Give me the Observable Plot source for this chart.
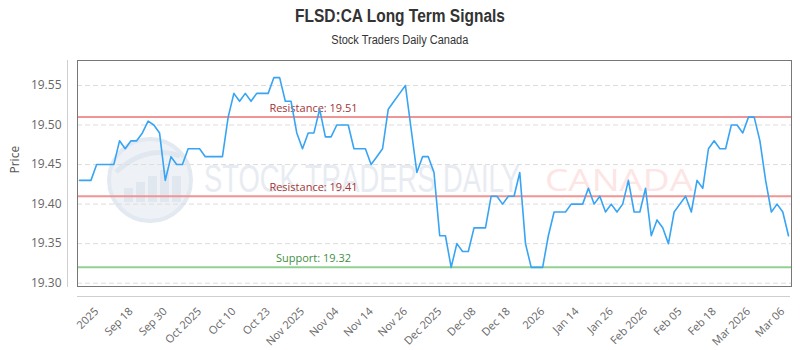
<!DOCTYPE html>
<html><head><meta charset="utf-8">
<script src="https://cdn.jsdelivr.net/npm/d3@7"></script>
<script src="https://cdn.jsdelivr.net/npm/@observablehq/plot@0.6"></script>
<style>
body{margin:0;background:#fff;}
#wrap{width:800px;}
#title{height:52px;position:relative;font-family:"Liberation Sans","DejaVu Sans",sans-serif;color:#333;text-align:center;}
#title .t{position:absolute;left:0;right:0;top:5px;font-size:18px;font-weight:bold;line-height:22px;}
#title .s{position:absolute;left:0;right:0;top:32px;font-size:12.5px;line-height:16px;}
#title span{display:inline-block;}
#title .t span{transform:scaleX(0.86);}
#title .s span{transform:scaleX(0.88);}
#chart svg{display:block;}
</style></head><body>
<div id="wrap">
<div id="title"><div class="t"><span>FLSD:CA Long Term Signals</span></div><div class="s"><span>Stock Traders Daily Canada</span></div></div>
<div id="chart"></div>
</div>
<script>
const prices = [
19.43,19.43,19.43,19.45,19.45,19.45,19.45,19.48,19.47,19.48,
19.48,19.49,19.505,19.50,19.49,19.43,19.46,19.45,19.45,19.47,
19.47,19.47,19.46,19.46,19.46,19.46,19.51,19.54,19.53,19.54,
19.53,19.54,19.54,19.54,19.56,19.56,19.53,19.53,19.49,19.47,
19.49,19.49,19.52,19.485,19.485,19.50,19.50,19.50,19.47,19.47,
19.47,19.45,19.46,19.47,19.52,19.53,19.54,19.55,19.495,19.44,
19.46,19.46,19.44,19.36,19.36,19.32,19.35,19.34,19.34,19.37,
19.37,19.37,19.41,19.41,19.40,19.41,19.41,19.44,19.35,19.32,
19.32,19.32,19.36,19.39,19.39,19.39,19.40,19.40,19.40,19.42,
19.40,19.41,19.39,19.40,19.39,19.40,19.43,19.39,19.39,19.42,
19.36,19.38,19.37,19.35,19.39,19.40,19.41,19.39,19.43,19.42,
19.47,19.48,19.47,19.47,19.50,19.50,19.49,19.51,19.51,19.48,
19.43,19.39,19.40,19.39,19.36
];
const xTickLabels = ["2025","Sep 18","Sep 30","Oct 2025","Oct 10","Oct 23","Nov 2025","Nov 04","Nov 14","Nov 26","Dec 2025","Dec 08","Dec 18","2026","Jan 14","Jan 26","Feb 2026","Feb 05","Feb 18","Mar 2026","Mar 06"];
const xTickFirst = 3, xTickStep = 6;
const yTicks = [19.30,19.35,19.40,19.45,19.50,19.55];
const levelTypes = ["Resistance","Resistance","Support"];
const levelValues = [19.51,19.41,19.32];

const series = prices.map((v,i)=>({i, v}));
const levels = levelTypes.map((t,k)=>({type:t, value:levelValues[k]}));
const tickIdx = xTickLabels.map((_,k)=>xTickFirst + k*xTickStep);
const tickLabel = new Map(tickIdx.map((t,k)=>[t, xTickLabels[k]]));
const lvlStroke = d => d.type === "Support" ? "#92d092" : "#f09595";
const lvlText = d => d.type === "Support" ? "#3f8f3f" : "#a23535";

const plot = Plot.plot({
  width: 800, height: 298,
  marginTop: 8, marginBottom: 64, marginLeft: 77, marginRight: 9,
  style: {fontFamily: "'Open Sans', sans-serif", fontSize: "12px", color: "#666", background: "#fff", overflow: "visible"},
  x: {type: "linear", domain: [0, prices.length - 1], insetLeft: 2, insetRight: 3},
  y: {domain: [19.2958, 19.5816]},
  marks: [
    Plot.gridY(yTicks, {stroke: "#dcdcdc", strokeOpacity: 1, strokeDasharray: "5,3"}),
    Plot.ruleY(levels, {y: "value", stroke: lvlStroke, strokeWidth: 2}),
    Plot.text(levels, {y: "value", text: d => `${d.type}: ${d.value.toFixed(2)}`, frameAnchor: "left", dx: 236, dy: -9, textAnchor: "middle", fill: lvlText, fontSize: 11}),
    Plot.line(series, {x: "i", y: "v", stroke: "#38a4f4", strokeWidth: 1.6}),
    Plot.frame({stroke: "#777"}),
    Plot.axisY(yTicks, {tickSize: 0, tickPadding: 16, tickFormat: d3.format(".2f"), label: null, fill: "#666"}),
    Plot.axisX(tickIdx, {tickSize: 0, tickPadding: 23, tickRotate: -45, tickFormat: i => tickLabel.get(i), label: null, fill: "#666", fontSize: 11}),
    Plot.text(["Price"], {frameAnchor: "left", dx: -62, rotate: -90, fill: "#555", fontSize: 12})
  ]
});
document.getElementById("chart").appendChild(plot);

// decorative watermark and outer axis lines
const svg = d3.select(plot);
const wm = svg.insert("g", "g").attr("pointer-events", "none").attr("text-anchor", "start");
wm.append("circle").attr("cx", 150).attr("cy", 128).attr("r", 41)
  .attr("fill", "#eef2f7").attr("stroke", "#e3e9f1").attr("stroke-width", 4);
[[124,14],[136,20],[148,26],[160,32],[172,26]].forEach(([bx,bh])=>{
  wm.append("rect").attr("x", bx).attr("y", 150-bh).attr("width", 9).attr("height", bh).attr("fill", "#e0e7ef");
});
wm.append("path").attr("d", "M116,120 Q146,92 180,104").attr("fill","none").attr("stroke","#e0e7ef").attr("stroke-width",5);
wm.append("text").attr("x", 204).attr("y", 140).attr("text-anchor", "start").attr("font-family", "'Liberation Sans','DejaVu Sans',sans-serif")
  .attr("font-size", 39).attr("fill", "#e8ecf2").attr("textLength", 316).attr("lengthAdjust", "spacingAndGlyphs").text("STOCK TRADERS DAILY");
wm.append("text").attr("x", 545).attr("y", 139).attr("text-anchor", "start").attr("font-family", "'Open Sans',sans-serif")
  .attr("font-size", 31).attr("fill", "#fde5e5").attr("textLength", 148).attr("lengthAdjust", "spacingAndGlyphs").text("CANADA");
svg.append("line").attr("x1", 67.5).attr("x2", 67.5).attr("y1", 8).attr("y2", 235).attr("stroke", "#cfcfcf");
svg.append("line").attr("x1", 77).attr("x2", 790).attr("y1", 244.5).attr("y2", 244.5).attr("stroke", "#cfcfcf");
</script>
</body></html>
